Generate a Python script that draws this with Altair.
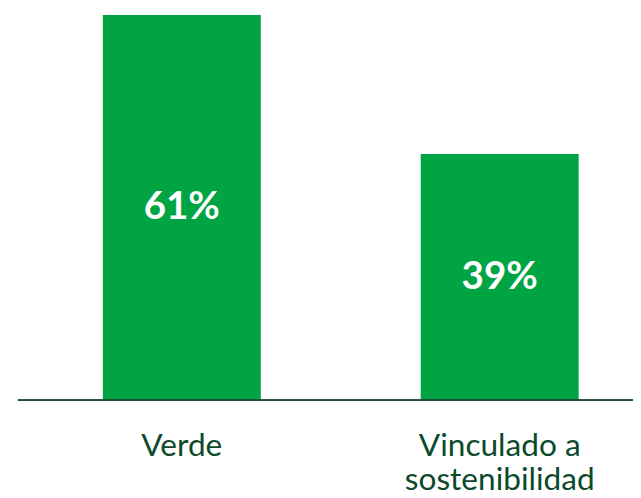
import altair as alt
import pandas as pd

categories = ["Verde", "Vinculado a sostenibilidad"]
values = [61, 39]
labels = ["61%", "39%"]

df = pd.DataFrame({"cat": categories, "val": values, "lab": labels})

x_enc = alt.X(
    "cat:N",
    sort=categories,
    scale=alt.Scale(paddingInner=0.503, paddingOuter=0.219, align=0.61),
    axis=alt.Axis(
        title=None,
        domain=False,
        ticks=False,
        labelAngle=0,
        labelFont="Lato",
        labelFontSize=32,
        labelColor="#0b4a2b",
        labelPadding=31,
        labelLineHeight=35,
        labelBaseline="top",
        labelLimit=0,
        labelExpr="datum.value == 'Vinculado a sostenibilidad' ? ['Vinculado a', 'sostenibilidad'] : datum.label",
    ),
)
y_enc = alt.Y("val:Q", scale=alt.Scale(domain=[0, 61], nice=False), axis=None)

bars = alt.Chart(df).mark_bar(color="#00a443", size=160).encode(x=x_enc, y=y_enc)

text = alt.Chart(df).mark_text(
    color="white", font="Lato", fontWeight="bold", fontSize=39, baseline="middle"
).encode(
    x=alt.X("cat:N", sort=categories),
    y=alt.Y("half:Q"),
    text="lab:N",
).transform_calculate(half="datum.val / 2")

rule = alt.Chart(df).mark_rule(color="#1f4d36", strokeWidth=2).encode(
    x=alt.value(0), x2=alt.value(623), y=alt.value(390)
)

chart = (
    alt.layer(bars, text, rule)
    .properties(
        width=623,
        height=390,
        autosize=alt.AutoSizeParams(type="none"),
        padding={"left": 10, "top": 4, "right": 0, "bottom": 96},
    )
    .configure_view(stroke=None)
)

chart.save("out.html", embed_options={"renderer": "svg", "actions": False})
